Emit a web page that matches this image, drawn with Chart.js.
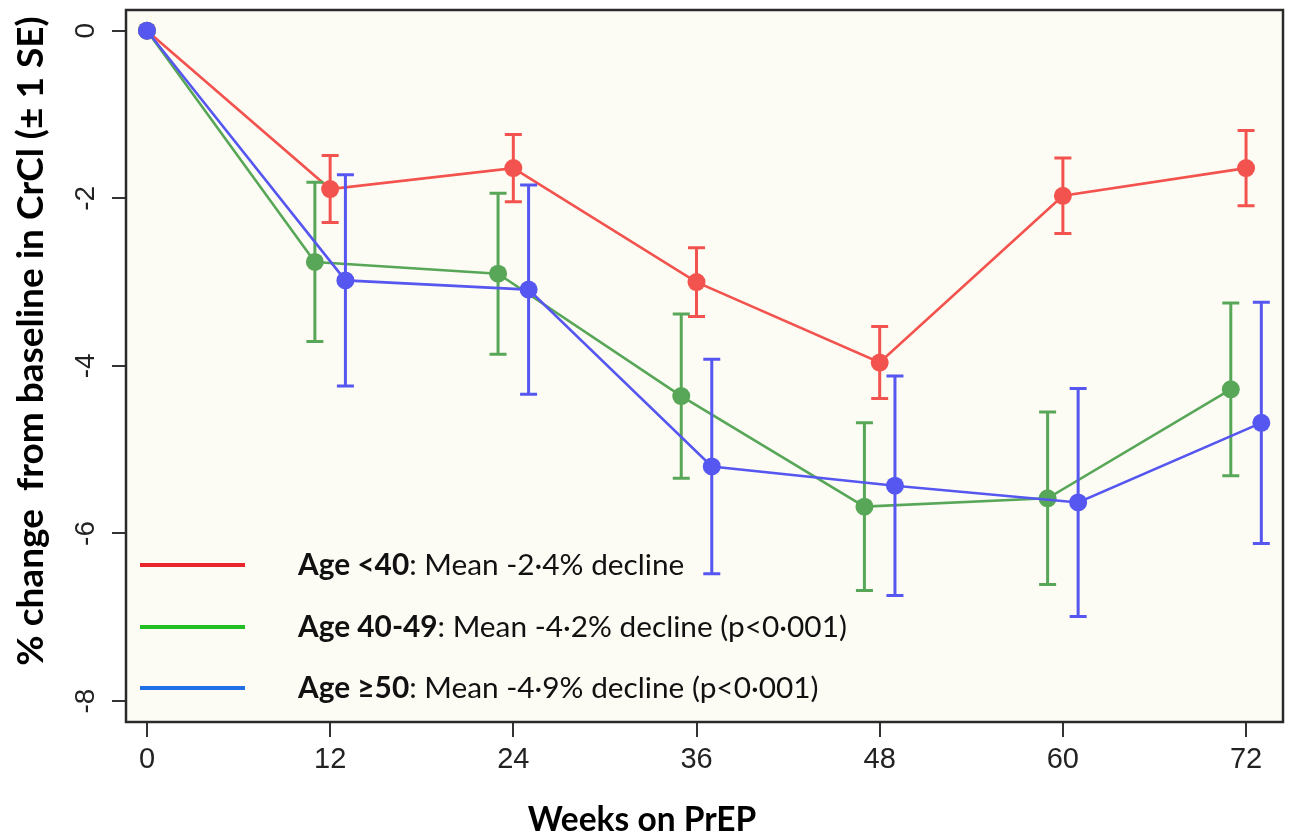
<!DOCTYPE html>
<html><head><meta charset="utf-8">
<script src="https://cdn.jsdelivr.net/npm/chart.js@4.4.1/dist/chart.umd.min.js"></script>
<style>html,body{margin:0;padding:0;background:#fff}#wrap{width:1292px;height:836px;position:relative}</style>
</head><body><div id="wrap"><canvas id="c"></canvas></div>
<script>
// ---- data ----
const xTickValues = [0, 12, 24, 36, 48, 60, 72];
const yTickValues = [0, -2, -4, -6, -8];
const weeksRed   = [0, 12, 24, 36, 48, 60, 72];
const weeksGreen = [0, 11, 23, 35, 47, 59, 71];
const weeksBlue  = [0, 13, 25, 37, 49, 61, 73];
const meanRed   = [0, -1.89, -1.64, -3.00, -3.96, -1.97, -1.64];
const seRed     = [0, 0.40, 0.40, 0.41, 0.43, 0.45, 0.45];
const meanGreen = [0, -2.76, -2.90, -4.36, -5.68, -5.58, -4.28];
const seGreen   = [0, 0.95, 0.96, 0.98, 1.00, 1.03, 1.03];
const meanBlue  = [0, -2.98, -3.09, -5.20, -5.43, -5.63, -4.68];
const seBlue    = [0, 1.26, 1.25, 1.28, 1.31, 1.36, 1.44];
const seriesBold = ['Age <40', 'Age 40-49', 'Age \u226550'];
const seriesRest = [': Mean -2\u00b74% decline', ': Mean -4\u00b72% decline (p<0\u00b7001)', ': Mean -4\u00b79% decline (p<0\u00b7001)'];
const xTitle = 'Weeks on PrEP';
const yTitle = '% change  from baseline in CrCl (\u00b1 1 SE)';

const lineColors = ['#F3534E', '#58A758', '#5656F0'];
const legendColors = ['#E8262B', '#22BE22', '#1F6FE6'];

function pts(xs, ys) { return xs.map((x, i) => ({x: x, y: ys[i]})); }

const errorBars = {
  id: 'errorBars',
  beforeDatasetDraw(chart, args) {
    const ds = chart.data.datasets[args.index];
    if (!ds.se) return;
    const xs = chart.scales.x, ys = chart.scales.y, ctx = chart.ctx;
    ctx.save();
    ctx.strokeStyle = ds.borderColor;
    ctx.lineWidth = 3;
    ds.data.forEach((p, i) => {
      const s = ds.se[i];
      if (!s) return;
      const px = xs.getPixelForValue(p.x);
      const t = ys.getPixelForValue(p.y + s), b = ys.getPixelForValue(p.y - s);
      ctx.beginPath();
      ctx.moveTo(px, t); ctx.lineTo(px, b);
      ctx.moveTo(px - 8.5, t); ctx.lineTo(px + 8.5, t);
      ctx.moveTo(px - 8.5, b); ctx.lineTo(px + 8.5, b);
      ctx.stroke();
    });
    ctx.restore();
  }
};

const frame = {
  id: 'frame',
  beforeDraw(chart) {
    const a = chart.chartArea, ctx = chart.ctx;
    ctx.save();
    ctx.fillStyle = '#FDFCF4';
    ctx.fillRect(a.left, a.top, a.right - a.left, a.bottom - a.top);
    ctx.restore();
  },
  afterDraw(chart) {
    const a = chart.chartArea, ctx = chart.ctx;
    ctx.save();
    ctx.strokeStyle = '#2a2a2a';
    ctx.lineWidth = 2.5;
    ctx.strokeRect(a.left, a.top, a.right - a.left, a.bottom - a.top);
    // titles
    ctx.fillStyle = '#000';
    ctx.font = 'bold 33.5px Lato';
    ctx.textAlign = 'center';
    ctx.textBaseline = 'alphabetic';
    ctx.fillText(xTitle, 642, 831);
    ctx.save();
    ctx.translate(43, 341);
    ctx.rotate(-Math.PI / 2);
    ctx.font = 'bold 37px Lato';
    ctx.fillText(yTitle, 0, 0);
    ctx.restore();
    // legend
    const ly = [565, 627, 688];
    for (let i = 0; i < 3; i++) {
      ctx.strokeStyle = legendColors[i];
      ctx.lineWidth = 4;
      ctx.beginPath(); ctx.moveTo(140, ly[i]); ctx.lineTo(245, ly[i]); ctx.stroke();
      ctx.textAlign = 'left';
      ctx.fillStyle = '#111';
      ctx.font = 'bold 29.8px Lato';
      ctx.fillText(seriesBold[i], 298, ly[i] + 10);
      const w = ctx.measureText(seriesBold[i]).width;
      ctx.font = '29.8px Lato';
      ctx.fillText(seriesRest[i], 298 + w, ly[i] + 10);
    }
    ctx.restore();
  }
};

new Chart(document.getElementById('c'), {
  type: 'line',
  data: {
    datasets: [
      {label: seriesBold[0], data: pts(weeksRed, meanRed), se: seRed, order: 3},
      {label: seriesBold[1], data: pts(weeksGreen, meanGreen), se: seGreen, order: 2},
      {label: seriesBold[2], data: pts(weeksBlue, meanBlue), se: seBlue, order: 1}
    ].map((d, i) => Object.assign(d, {
      borderColor: lineColors[i], backgroundColor: lineColors[i],
      pointBackgroundColor: lineColors[i], pointBorderWidth: 0,
      pointRadius: 9, borderWidth: 2.6, tension: 0, fill: false
    }))
  },
  options: {
    responsive: true, maintainAspectRatio: false, animation: false,
    devicePixelRatio: 1,
    layout: {padding: {top: 10, right: 7, left: 0, bottom: 0}},
    plugins: {legend: {display: false}, tooltip: {enabled: false}},
    scales: {
      x: {
        type: 'linear', min: -1.373, max: 74.42,
        afterBuildTicks: s => { s.ticks = xTickValues.map(v => ({value: v})); },
        afterFit: s => { s.height = 114; s.paddingLeft = 0; s.paddingRight = 0; },
        border: {display: false},
        grid: {drawOnChartArea: false, drawTicks: true, tickLength: 15, tickColor: '#333', lineWidth: 2},
        ticks: {font: {family: 'Liberation Sans', size: 29}, color: '#222', padding: 6, maxRotation: 0, autoSkip: false}
      },
      y: {
        type: 'linear', min: -8.25, max: 0.247,
        afterBuildTicks: s => { s.ticks = yTickValues.map(v => ({value: v})); },
        afterFit: s => { s.width = 126; s.paddingTop = 0; s.paddingBottom = 0; },
        border: {display: false},
        grid: {drawOnChartArea: false, drawTicks: true, tickLength: 14, tickColor: '#333', lineWidth: 2},
        ticks: {font: {family: 'Liberation Sans', size: 28}, color: '#222', padding: 13,
                minRotation: 90, maxRotation: 90, crossAlign: 'center'}
      }
    }
  },
  plugins: [errorBars, frame]
});
</script></body></html>
